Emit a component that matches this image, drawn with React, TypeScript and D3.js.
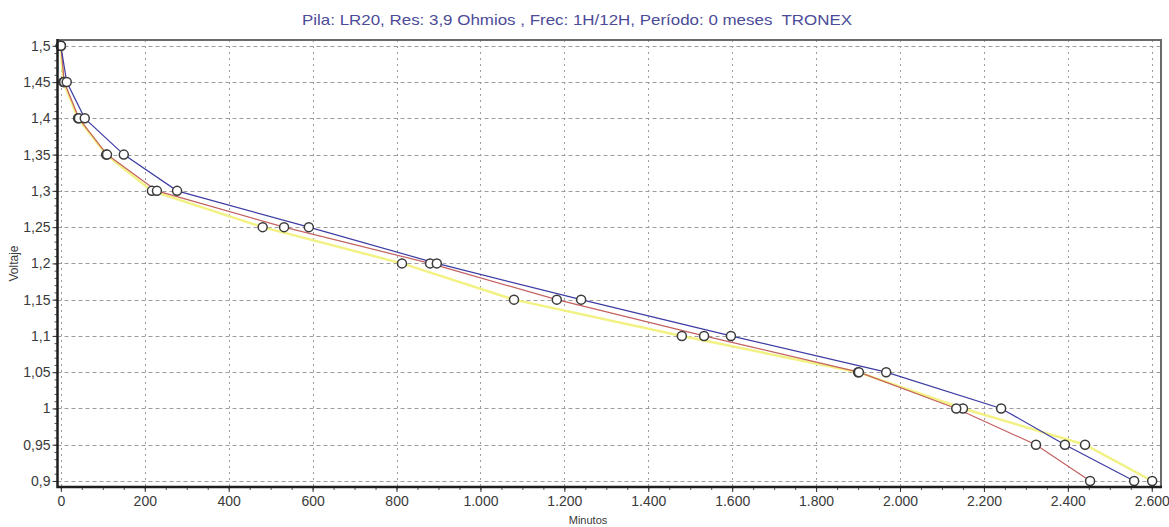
import React, { useEffect, useRef } from "react";
import * as d3 from "d3";

// voltage levels at which each series was sampled
const voltages = [1.5, 1.45, 1.4, 1.35, 1.3, 1.25, 1.2, 1.15, 1.1, 1.05, 1.0, 0.95, 0.9];

// minutes at which each series reached the level
const serieAmarilla = [0, 6, 41, 108, 217, 481, 813, 1080, 1480, 1900, 2150, 2441, 2601];
const serieRoja = [0, 8, 43, 110, 229, 532, 880, 1182, 1533, 1902, 2134, 2324, 2453];
const serieAzul = [0, 14, 57, 150, 277, 591, 896, 1240, 1597, 1967, 2241, 2393, 2558];

const xTicks = [0, 200, 400, 600, 800, 1000, 1200, 1400, 1600, 1800, 2000, 2200, 2400, 2600];
const yTicks = [0.9, 0.95, 1.0, 1.05, 1.1, 1.15, 1.2, 1.25, 1.3, 1.35, 1.4, 1.45, 1.5];

const title = "Pila: LR20, Res: 3,9 Ohmios , Frec: 1H/12H, Período: 0 meses  TRONEX";

const series = [
  { name: "amarilla", values: serieAmarilla, color: "#f2f284", width: 2.5 },
  { name: "roja", values: serieRoja, color: "#c46060", width: 1.2 },
  { name: "azul", values: serieAzul, color: "#3c3ca4", width: 1.2 },
];

const W = 1169;
const H = 527;

const App = () => {
  const svgRef = useRef<SVGSVGElement>(null);

  useEffect(() => {
    const svg = d3.select(svgRef.current);
    svg.selectAll("*").remove();

    const left = 57.5;
    const right = 1161;
    const top = 40;
    const bottom = 487;

    const x = d3.scaleLinear().domain([-8, 2622]).range([left, right]);
    const y = d3.scaleLinear().domain([0.8917, 1.508]).range([bottom, top]);

    const es = d3.formatLocale({ decimal: ",", thousands: ".", grouping: [3], currency: ["", ""] });
    const fy = es.format(".2~f");
    const fx = es.format(",");

    const font = "'Liberation Sans', Arial, sans-serif";

    svg
      .append("rect")
      .attr("width", W)
      .attr("height", H)
      .attr("fill", "#fff");

    // title
    svg
      .append("text")
      .attr("x", 577)
      .attr("y", 25)
      .attr("text-anchor", "middle")
      .attr("font-family", font)
      .attr("font-size", 15)
      .attr("fill", "#4b4b98")
      .attr("textLength", 550)
      .attr("lengthAdjust", "spacingAndGlyphs")
      .style("white-space", "pre")
      .text(title);

    // grid
    const grid = svg.append("g").attr("stroke", "#9c9c9c").attr("stroke-width", 1);
    grid
      .selectAll("line.h")
      .data(yTicks)
      .enter()
      .append("line")
      .attr("x1", left)
      .attr("x2", right)
      .attr("y1", (d) => Math.round(y(d)) + 0.5)
      .attr("y2", (d) => Math.round(y(d)) + 0.5)
      .attr("stroke-dasharray", "4,3");
    grid
      .selectAll("line.v")
      .data(xTicks)
      .enter()
      .append("line")
      .attr("x1", (d) => Math.round(x(d)) + 0.5)
      .attr("x2", (d) => Math.round(x(d)) + 0.5)
      .attr("y1", top)
      .attr("y2", bottom)
      .attr("stroke-dasharray", "2,4");

    // frame top / right
    svg
      .append("path")
      .attr("d", `M${left},${top}H${right}V${bottom}`)
      .attr("fill", "none")
      .attr("stroke", "#6a6a6a")
      .attr("stroke-width", 2);

    // lines
    const line = d3
      .line<number>()
      .x((d) => x(d))
      .y((_, i) => y(voltages[i]));

    series.forEach((s) => {
      svg
        .append("path")
        .datum(s.values)
        .attr("d", line)
        .attr("fill", "none")
        .attr("stroke", s.color)
        .attr("stroke-width", s.width);
    });

    // markers
    series.forEach((s) => {
      svg
        .append("g")
        .selectAll("circle")
        .data(s.values)
        .enter()
        .append("circle")
        .attr("cx", (d) => x(d))
        .attr("cy", (_, i) => y(voltages[i]))
        .attr("r", 4.5)
        .attr("fill", "#fff")
        .attr("stroke", "#3a3a3a")
        .attr("stroke-width", 1.5);
    });

    // Y axis
    const yMinor = d3.range(90, 151).map((v) => v / 100);
    svg
      .append("g")
      .attr("transform", `translate(${left},0)`)
      .call(d3.axisLeft(y).tickValues(yMinor).tickSize(3).tickFormat(() => ""))
      .call((g) => g.select(".domain").remove())
      .call((g) => g.selectAll("line").attr("stroke", "#555"));
    svg
      .append("g")
      .attr("transform", `translate(${left},0)`)
      .call(d3.axisLeft(y).tickValues(yTicks).tickSize(5).tickPadding(2).tickFormat((d) => fy(d as number)))
      .call((g) => g.select(".domain").remove())
      .call((g) => g.selectAll("line").attr("stroke", "#333"))
      .call((g) =>
        g.selectAll("text").attr("font-family", font).attr("font-size", 14).attr("fill", "#3a3a3a")
      );

    // X axis
    const xMinor = d3.range(0, 2601, 50);
    svg
      .append("g")
      .attr("transform", `translate(0,${bottom})`)
      .call(d3.axisBottom(x).tickValues(xMinor).tickSize(3).tickFormat(() => ""))
      .call((g) => g.select(".domain").remove())
      .call((g) => g.selectAll("line").attr("stroke", "#555"));
    svg
      .append("g")
      .attr("transform", `translate(0,${bottom})`)
      .call(d3.axisBottom(x).tickValues(xTicks).tickSize(5).tickPadding(4).tickFormat((d) => fx(d as number)))
      .call((g) => g.select(".domain").remove())
      .call((g) => g.selectAll("line").attr("stroke", "#333"))
      .call((g) =>
        g.selectAll("text").attr("font-family", font).attr("font-size", 14).attr("fill", "#3a3a3a")
      );

    // axis lines (left / bottom)
    svg
      .append("path")
      .attr("d", `M${left},${top - 1}V${bottom}H${right + 1}`)
      .attr("fill", "none")
      .attr("stroke", "#1e1e1e")
      .attr("stroke-width", 2.5);

    // axis titles
    svg
      .append("text")
      .attr("transform", `translate(18,${(top + bottom) / 2}) rotate(-90)`)
      .attr("text-anchor", "middle")
      .attr("font-family", font)
      .attr("font-size", 12)
      .attr("fill", "#3a3a3a")
      .text("Voltaje");
    svg
      .append("text")
      .attr("x", 588)
      .attr("y", 524)
      .attr("text-anchor", "middle")
      .attr("font-family", font)
      .attr("font-size", 11)
      .attr("fill", "#3a3a3a")
      .text("Minutos");
  }, []);

  return (
    <svg
      ref={svgRef}
      width={W}
      height={H}
      style={{ position: "absolute", left: 0, top: 0, display: "block" }}
    />
  );
};

export default App;
